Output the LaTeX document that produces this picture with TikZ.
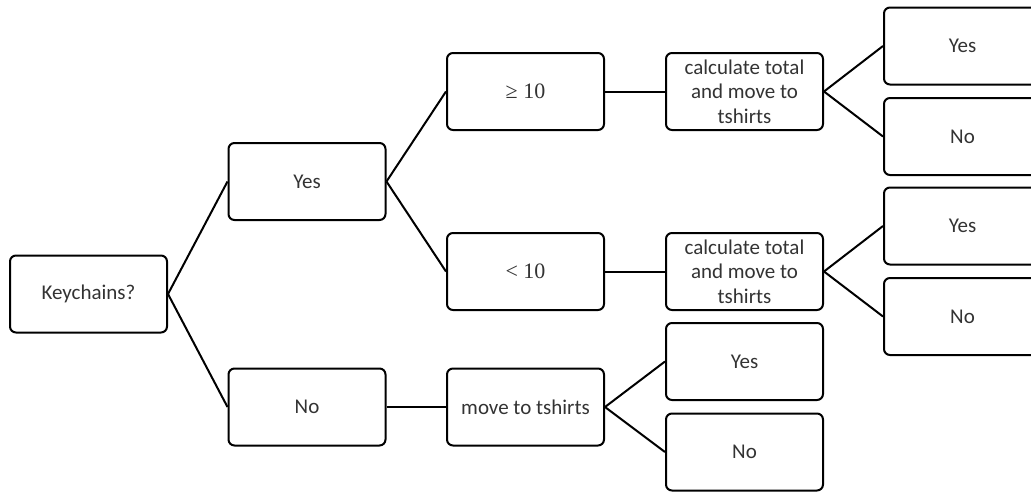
\documentclass[tikz,border=0pt]{standalone}
\usepackage{fontspec}
\setmainfont{Carlito}
\newfontfamily\symfont{Liberation Serif}
\begin{document}
\begin{tikzpicture}[x=1pt,y=-1pt,
  box/.style={draw=black,line width=2pt,rounded corners=6pt,fill=white,
    minimum width=157pt,minimum height=77pt,inner sep=2pt,align=center,
    text=black!80,font=\fontsize{21}{24.5}\selectfont},
  link/.style={draw=black,line width=2pt}]
\useasboundingbox (0,0) rectangle (1031,491);
\clip (0,0) rectangle (1031,491);
% root and first level
\node[box] (kc)   at (88.5,294)  {Keychains?};
\node[box] (yes1) at (307,181.5) {Yes};
\node[box] (no1)  at (307,407)   {No};
% second level
\node[box] (ge) at (525.5,91.5)  {{\symfont\fontsize{22}{24}\selectfont ≥ 10}};
\node[box] (lt) at (525.5,271.5) {{\symfont\fontsize{22}{24}\selectfont < 10}};
\node[box] (mv) at (525.5,407)   {move to tshirts};
% third level
\node[box] (ct1) at (744.5,91.5)  {calculate total\\and move to\\tshirts};
\node[box] (ct2) at (744.5,271.5) {calculate total\\and move to\\tshirts};
\node[box] (y5)  at (744.5,361.5) {Yes};
\node[box] (n5)  at (744.5,452)   {No};
% outcomes on the right
\node[box] (y3) at (962.5,46)    {Yes};
\node[box] (n3) at (962.5,136.5) {No};
\node[box] (y4) at (962.5,226)   {Yes};
\node[box] (n4) at (962.5,316.5) {No};
% connectors
\draw[link] (kc.east) -- (yes1.west);
\draw[link] (kc.east) -- (no1.west);
\draw[link] (yes1.east) -- (ge.west);
\draw[link] (yes1.east) -- (lt.west);
\draw[link] (no1.east) -- (mv.west);
\draw[link] (ge.east) -- (ct1.west);
\draw[link] (lt.east) -- (ct2.west);
\draw[link] (ct1.east) -- (y3.west);
\draw[link] (ct1.east) -- (n3.west);
\draw[link] (ct2.east) -- (y4.west);
\draw[link] (ct2.east) -- (n4.west);
\draw[link] (mv.east) -- (y5.west);
\draw[link] (mv.east) -- (n5.west);
\end{tikzpicture}
\end{document}
